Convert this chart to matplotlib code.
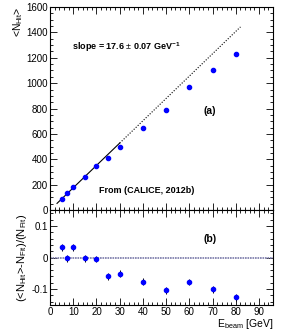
import numpy as np
import matplotlib.pyplot as plt
from matplotlib.ticker import MultipleLocator

plt.rcParams['font.family'] = ['Liberation Sans', 'DejaVu Sans']
plt.rcParams['mathtext.fontset'] = 'custom'
plt.rcParams['mathtext.rm'] = 'Liberation Sans'
plt.rcParams['mathtext.it'] = 'Liberation Sans'
plt.rcParams['mathtext.bf'] = 'Liberation Sans:bold'

# Daten aus der Abbildung
e_beam = [5, 7.5, 10, 15, 20, 25, 30, 40, 50, 60, 70, 80]
n_hit = [88, 132, 182, 263, 350, 413, 499, 649, 786, 969, 1103, 1227]
rel_dev = [0.033, -0.002, 0.032, -0.003, -0.004, -0.060, -0.051, -0.076, -0.104, -0.078, -0.100, -0.126]
rel_err = [0.011, 0.011, 0.011, 0.010, 0.010, 0.010, 0.010, 0.010, 0.010, 0.010, 0.011, 0.011]
slope = 17.6
fit_solid = [3, 30]
fit_dotted = [30, 82]

fig = plt.figure(figsize=(2.91, 3.34), dpi=100)
ax1 = fig.add_axes([0.172, 0.371, 0.766, 0.608])
ax2 = fig.add_axes([0.172, 0.087, 0.766, 0.284])

def root_style(ax):
    ax.tick_params(which='both', direction='in', top=True, right=True, labelsize=7, pad=1.5)
    ax.tick_params(which='major', length=5, width=0.6)
    ax.tick_params(which='minor', length=2.5, width=0.6)
    ax.xaxis.set_major_locator(MultipleLocator(10))
    ax.xaxis.set_minor_locator(MultipleLocator(2))
    for s in ax.spines.values():
        s.set_linewidth(0.8)

# oberes Panel
ax1.plot(fit_solid, [slope * x for x in fit_solid], color='black', lw=0.8)
ax1.plot(fit_dotted, [slope * x for x in fit_dotted], color='black', lw=0.8, ls=(0, (1, 1.5)))
ax1.plot(e_beam, n_hit, 'o', color='blue', ms=3, mec='blue')
ax1.set_xlim(0, 96)
ax1.set_ylim(0, 1600)
root_style(ax1)
ax1.yaxis.set_major_locator(MultipleLocator(200))
ax1.yaxis.set_minor_locator(MultipleLocator(50))
ax1.tick_params(labelbottom=False)
ax1.set_ylabel(r'<N$_{\mathrm{Hit}}$>', fontsize=7.5, loc='top', labelpad=1)
ax1.text(0.1, 0.79, r'slope = 17.6 $\pm$ 0.07 GeV$^{\mathbf{-1}}$', transform=ax1.transAxes,
         fontsize=6.5, fontweight='bold')
ax1.text(0.69, 0.475, '(a)', transform=ax1.transAxes, fontsize=7.5, fontweight='bold')
ax1.text(0.22, 0.085, 'From (CALICE, 2012b)', transform=ax1.transAxes, fontsize=6.5, fontweight='bold')

# unteres Panel
ax2.axhline(0, color='#7878a8', lw=1.2, ls=(0, (1, 0.5)))
ax2.errorbar(e_beam, rel_dev, yerr=rel_err, fmt='o', color='blue', ms=3, mec='blue',
             ecolor='black', elinewidth=0.7, capsize=0)
ax2.set_xlim(0, 96)
ax2.set_ylim(-0.15, 0.15)
root_style(ax2)
ax2.yaxis.set_major_locator(MultipleLocator(0.1))
ax2.yaxis.set_minor_locator(MultipleLocator(0.02))
ax2.set_yticks([-0.1, 0, 0.1])
ax2.set_yticklabels(['-0.1', '0', '0.1'])
ax2.set_ylabel(r'(<N$_{\mathrm{Hit}}$>-N$_{\mathrm{Fit}}$)/(N$_{\mathrm{Fit}}$)', fontsize=8, labelpad=2)
ax2.set_xlabel(r'E$_{\mathrm{beam}}$ [GeV]', fontsize=7.5, loc='right', labelpad=0)
ax2.text(0.69, 0.66, '(b)', transform=ax2.transAxes, fontsize=7.5, fontweight='bold')

fig.savefig('out.png', dpi=100)
